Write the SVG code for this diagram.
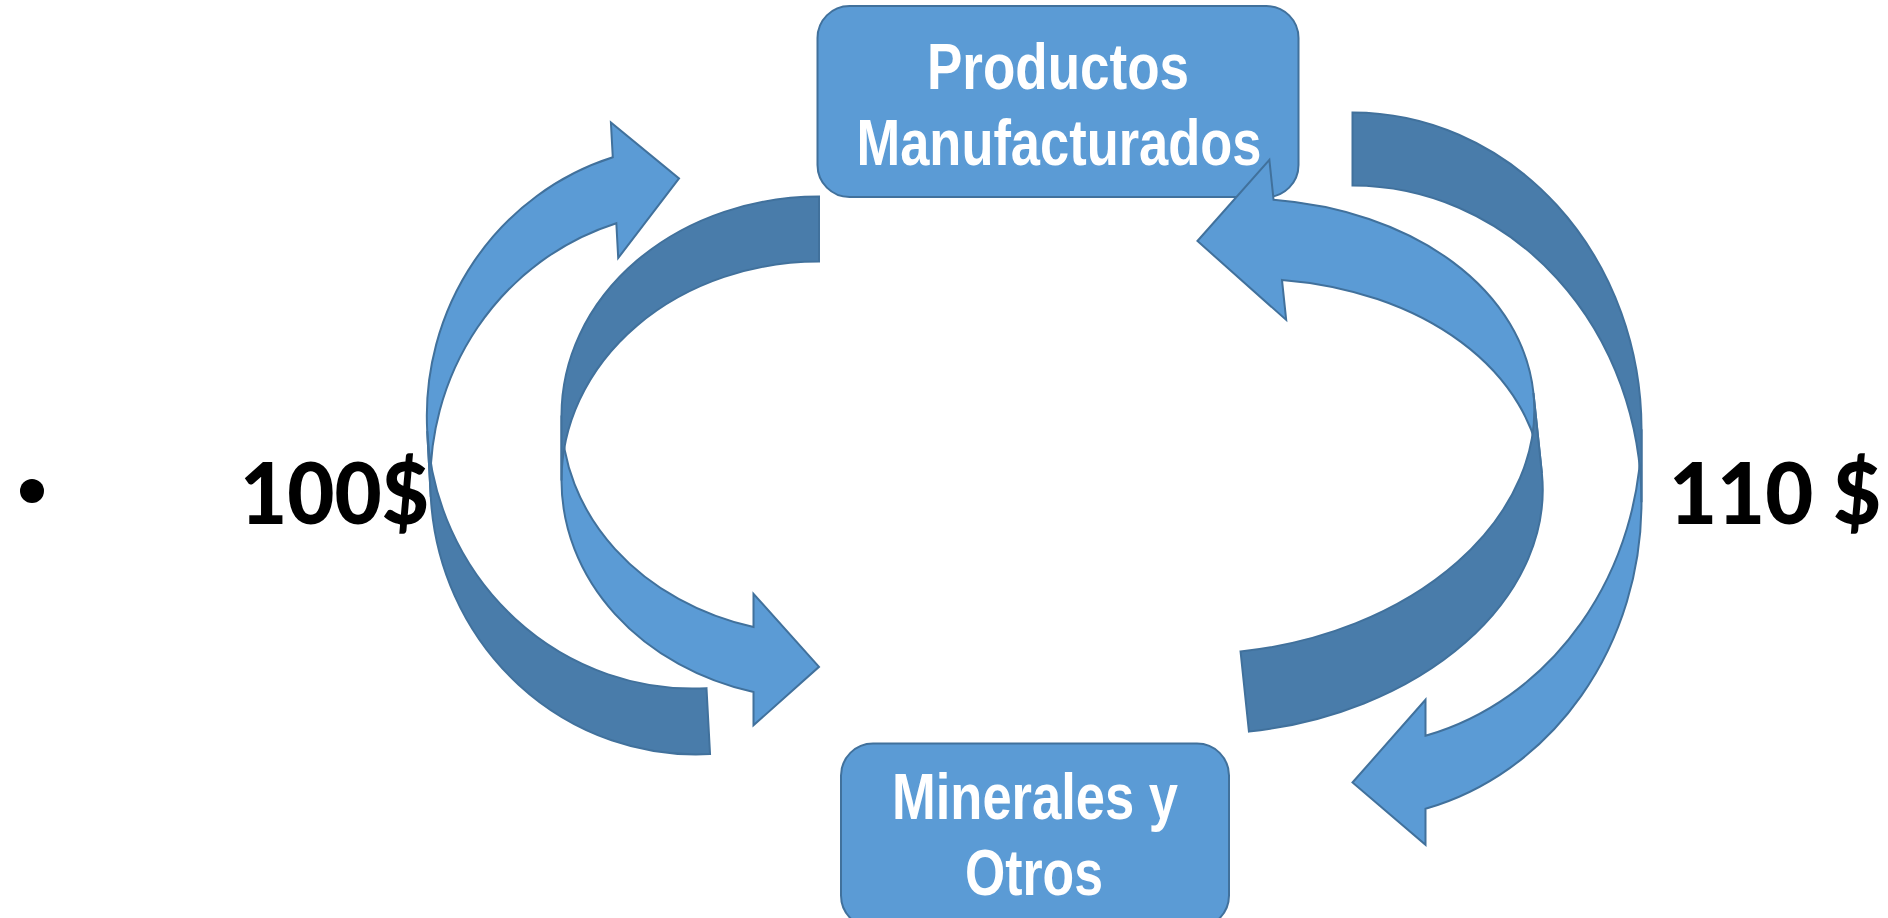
<svg xmlns="http://www.w3.org/2000/svg" width="1888" height="918" viewBox="0 0 1888 918">
<style>
.box{fill:#5B9BD5;stroke:#41719C;stroke-width:2}
.lbl{font-family:"Liberation Sans",Arial,sans-serif;font-weight:bold;font-size:64px;fill:#FFFFFF;text-anchor:middle}
.val{font-family:Lato,"Open Sans",sans-serif;font-weight:900;font-size:85px;fill:#000000}
.face{fill:#5B9BD5;stroke:#41719C;stroke-width:2;stroke-linejoin:miter}
.back{fill:#497CAA;stroke:#41719C;stroke-width:2;stroke-linejoin:miter}
</style>
<rect width="1888" height="918" fill="#FFFFFF"/>
<g id="labels">
<circle cx="32" cy="491" r="12" fill="#000000"/>
<text class="val" x="240" y="524" textLength="189" lengthAdjust="spacingAndGlyphs">100$</text>
<text class="val" x="1669" y="524" textLength="212" lengthAdjust="spacingAndGlyphs">110 $</text>
</g>
<g id="node-productos">
<rect class="box" x="817.5" y="6" width="481" height="191" rx="32" ry="32"/>
<text class="lbl" x="1058" y="89" textLength="262" lengthAdjust="spacingAndGlyphs">Productos</text>
<text class="lbl" x="1059" y="165" textLength="405" lengthAdjust="spacingAndGlyphs">Manufacturados</text>
</g>
<g id="node-minerales">
<rect class="box" x="841" y="743.5" width="388" height="184" rx="32" ry="32"/>
<text class="lbl" x="1035" y="819" textLength="286" lengthAdjust="spacingAndGlyphs">Minerales y</text>
<text class="lbl" x="1034" y="895" textLength="138" lengthAdjust="spacingAndGlyphs">Otros</text>
</g>
<g id="connectors">
<g id="arrow-left-outer" transform="matrix(0.9986 -0.0538 -0.0538 -0.9986 445.4 768.3)">
<path class="face" d="M0 271.7 A265 271.7 0 0 0 200 535.1 L200 500.25 L265 576.4 L200 635.95 L200 601.1 A265 271.7 0 0 1 0 337.7 Z"/>
<path class="back" d="M265 0 A265 271.7 0 0 0 0 271.7 L0 337.7 A265 271.7 0 0 1 265 66 Z"/>
</g>
<g id="arrow-left-inner" transform="translate(561.5 196.5)">
<path class="face" d="M0 218.9 A257.5 218.9 0 0 0 192 430.6 L192 397.35 L257.5 470.3 L192 528.85 L192 495.6 A257.5 218.9 0 0 1 0 283.9 Z"/>
<path class="back" d="M257.5 0 A257.5 218.9 0 0 0 0 218.9 L0 283.9 A257.5 218.9 0 0 1 257.5 65 Z"/>
</g>
<g id="arrow-right-inner" transform="matrix(-0.9945 0.1044 -0.1044 -0.9945 1565.5 698.3)">
<path class="face" d="M0 226.5 A318.3 226.5 0 0 0 238.3 445.75 L238.3 405.5 L318.3 493.25 L238.3 566.5 L238.3 526.25 A318.3 226.5 0 0 1 0 307 Z"/>
<path class="back" d="M318.3 0 A318.3 226.5 0 0 0 0 226.5 L0 307 A318.3 226.5 0 0 1 318.3 80.5 Z"/>
</g>
<g id="arrow-right-outer" transform="matrix(-1 0 0 1 1641.5 112.5)">
<path class="face" d="M0 316.75 A289 316.75 0 0 0 216 623.25 L216 587.25 L289 670 L216 732.25 L216 696.25 A289 316.75 0 0 1 0 389.75 Z"/>
<path class="back" d="M289 0 A289 316.75 0 0 0 0 316.75 L0 389.75 A289 316.75 0 0 1 289 73 Z"/>
</g>
</g>
</svg>
